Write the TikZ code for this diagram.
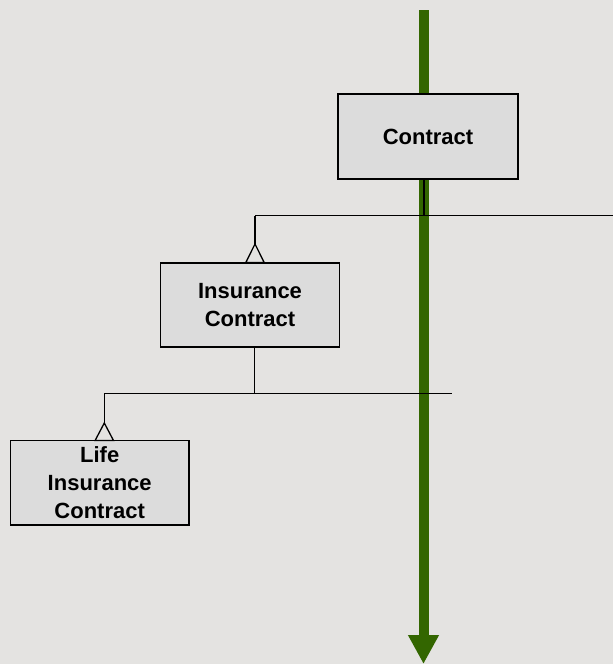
\documentclass[tikz,border=0pt]{standalone}
\usepackage{fontspec}
\setmainfont{Liberation Sans}
\usetikzlibrary{arrows.meta,calc}
\definecolor{canvas}{HTML}{E4E3E1}
\definecolor{boxfill}{HTML}{DCDCDC}
\definecolor{flowgreen}{HTML}{336600}
\tikzset{
  classbox/.style={draw=black, line width=1.4pt, fill=boxfill, rectangle,
    align=center, font=\fontsize{22}{27.8}\selectfont\bfseries,
    inner sep=0pt},
  link/.style={draw=black, line width=1.3pt},
  gentri/.style={draw=black, line width=1.3pt, fill=canvas, line join=miter},
  flow/.style={draw=flowgreen, line width=10pt,
    -{Triangle[width=29pt,length=29pt]}}
}
\begin{document}
\begin{tikzpicture}[x=1pt,y=-1pt]
  \fill[canvas] (0,0) rectangle (613,664);
  \useasboundingbox (0,0) rectangle (613,664);

  % process flow arrow behind everything
  \coordinate (flowtop) at (423.5,10);
  \coordinate (flowend) at (423.5,664);
  \draw[flow] (flowtop) -- (flowend);

  % classes
  \node[classbox, minimum width=180pt, minimum height=85pt] (contract) at (428,136.5) {Contract};
  \node[classbox, minimum width=178.6pt, minimum height=84pt] (ins) at (250,305) {Insurance\\Contract};
  \node[classbox, minimum width=178.6pt, minimum height=84.5pt] (life) at (99.7,482.8) {Life\\Insurance\\Contract};

  % generalisation: Contract <- Insurance Contract
  \coordinate (c1) at (424,179);
  \coordinate (b1l) at (255,215.7);
  \coordinate (b1r) at (613,215.7);
  \coordinate (t1) at (255,244);
  \draw[link] (c1) -- (c1 |- b1l);
  \draw[link] (b1l) -- (b1r);
  \draw[link] (b1l) -- (t1);
  \draw[gentri] (t1) -- ($(t1)+(9.2,18.5)$) -- ($(t1)+(-9.2,18.5)$) -- cycle;

  % generalisation: Insurance Contract <- Life Insurance Contract
  \coordinate (c2) at (254.7,347);
  \coordinate (b2l) at (104.3,393.3);
  \coordinate (b2r) at (451.7,393.3);
  \coordinate (t2) at (104.3,423);
  \draw[link] (c2) -- (c2 |- b2l);
  \draw[link] (b2l) -- (b2r);
  \draw[link] (b2l) -- (t2);
  \draw[gentri] (t2) -- ($(t2)+(9.2,17.5)$) -- ($(t2)+(-9.2,17.5)$) -- cycle;
\end{tikzpicture}
\end{document}
